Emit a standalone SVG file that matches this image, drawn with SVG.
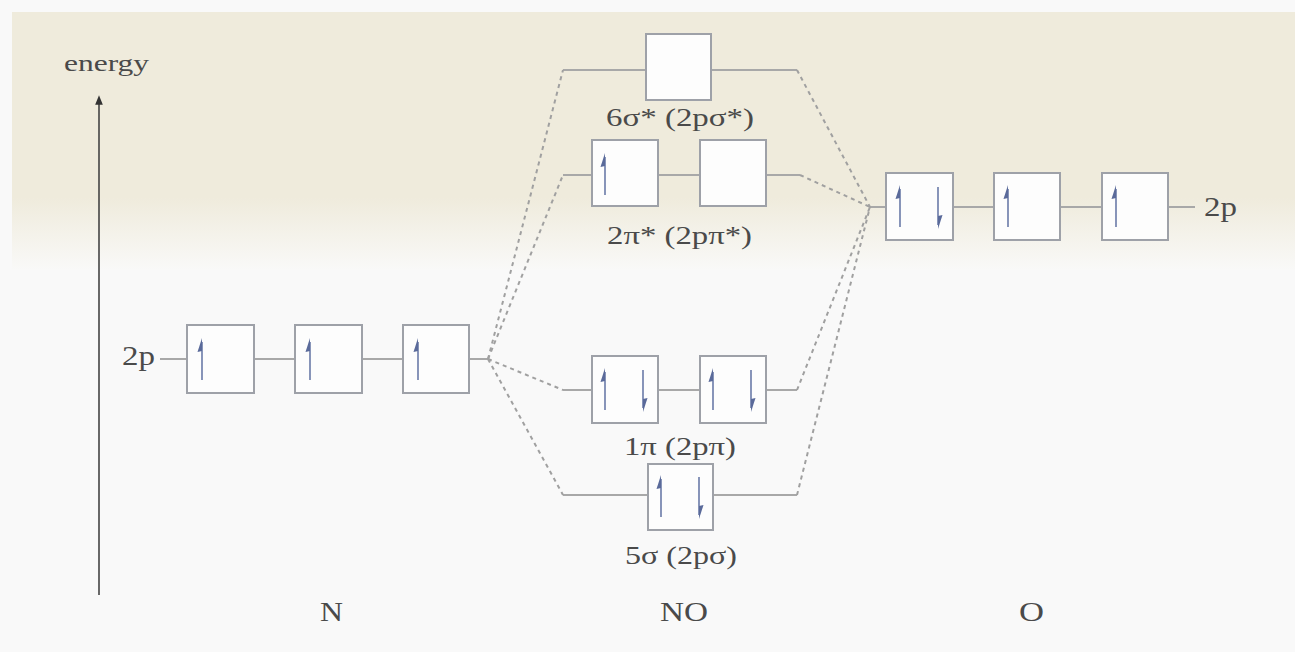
<svg xmlns="http://www.w3.org/2000/svg" xmlns:xlink="http://www.w3.org/1999/xlink" width="1295" height="652" viewBox="0 0 1295 652">
<style>
.box{fill:#fdfdfd;stroke:#9ea1a8;stroke-width:2}
.lvl{stroke:#a8a8a8;stroke-width:2;fill:none}
.dash{stroke:#a0a0a0;stroke-width:2;fill:none;stroke-dasharray:4 4}
.lbl{font-family:"Liberation Serif",serif;font-size:26px;fill:#4a4a4a}
.big{font-size:28px}
.el{stroke:#6a7aa8;stroke-width:1.6;fill:none}
.elh{fill:#5a6a9a}
</style>
<defs>
<linearGradient id="bg" x1="0" y1="0" x2="0" y2="1">
<stop offset="0" stop-color="#efebdc"/>
<stop offset="0.72" stop-color="#efebdc"/>
<stop offset="1" stop-color="#f9f9f8"/>
</linearGradient>
<g id="up"><path class="el" d="M0,20 V-18"/><path class="elh" d="M0,-22 L-4.5,-8 L0,-9 Z"/></g>
<g id="dn"><path class="el" d="M0,-20 V18"/><path class="elh" d="M0,22 L4.5,8 L0,9 Z"/></g>
<marker id="ah" viewBox="0 0 10 10" refX="5" refY="5" markerWidth="6" markerHeight="8" orient="auto"><path d="M0,1 L10,5 L0,9 Z" fill="#333"/></marker>
</defs>
<rect x="0" y="0" width="1295" height="652" fill="#f9f9f9"/>
<rect x="12" y="12" width="1283" height="258" fill="url(#bg)"/>

<g id="axis">
<line x1="99" y1="595" x2="99" y2="100" stroke="#444" stroke-width="1.6" marker-end="url(#ah)"/>
<text class="lbl" x="64" y="71" textLength="85" lengthAdjust="spacingAndGlyphs" style="font-size:24px">energy</text>
</g>

<g id="connectors">
<path class="lvl" d="M160,359 H488"/>
<path class="lvl" d="M870,207 H1195"/>
<path class="lvl" d="M563,70 H797"/>
<path class="lvl" d="M563,175 H800"/>
<path class="lvl" d="M563,390 H797"/>
<path class="lvl" d="M563,495 H797"/>
<path class="dash" d="M488,359 L563,70"/>
<path class="dash" d="M488,359 L563,175"/>
<path class="dash" d="M488,359 L563,390"/>
<path class="dash" d="M488,359 L563,495"/>
<path class="dash" d="M797,70 L870,207"/>
<path class="dash" d="M800,175 L870,207"/>
<path class="dash" d="M797,390 L870,207"/>
<path class="dash" d="M797,495 L870,207"/>
</g>

<g id="N2p">
<text class="lbl big" x="122" y="365" textLength="33" lengthAdjust="spacingAndGlyphs">2p</text>
<rect class="box" x="187" y="325" width="67" height="68"/>
<use xlink:href="#up" href="#up" transform="translate(202,360)"/>
<rect class="box" x="295" y="325" width="67" height="68"/>
<use xlink:href="#up" href="#up" transform="translate(310,360)"/>
<rect class="box" x="403" y="325" width="66" height="68"/>
<use xlink:href="#up" href="#up" transform="translate(418,360)"/>
<text class="lbl big" x="320" y="621" textLength="23" lengthAdjust="spacingAndGlyphs">N</text>
</g>

<g id="sigma6">
<rect class="box" x="646" y="34" width="65" height="66"/>
<text class="lbl" x="606" y="126" textLength="148" lengthAdjust="spacingAndGlyphs">6σ* (2pσ*)</text>
</g>

<g id="pi2">
<rect class="box" x="592" y="140" width="66" height="66"/>
<use xlink:href="#up" href="#up" transform="translate(605,175)"/>
<rect class="box" x="700" y="140" width="66" height="66"/>
<text class="lbl" x="607" y="244" textLength="145" lengthAdjust="spacingAndGlyphs">2π* (2pπ*)</text>
</g>

<g id="pi1">
<rect class="box" x="592" y="356" width="66" height="67"/>
<use xlink:href="#up" href="#up" transform="translate(605,390)"/>
<use xlink:href="#dn" href="#dn" transform="translate(643,390)"/>
<rect class="box" x="700" y="356" width="66" height="67"/>
<use xlink:href="#up" href="#up" transform="translate(713,390)"/>
<use xlink:href="#dn" href="#dn" transform="translate(751,390)"/>
<text class="lbl" x="624" y="455" textLength="112" lengthAdjust="spacingAndGlyphs">1π (2pπ)</text>
</g>

<g id="sigma5">
<rect class="box" x="648" y="464" width="65" height="66"/>
<use xlink:href="#up" href="#up" transform="translate(661,497)"/>
<use xlink:href="#dn" href="#dn" transform="translate(699,497)"/>
<text class="lbl" x="625" y="564" textLength="112" lengthAdjust="spacingAndGlyphs">5σ (2pσ)</text>
<text class="lbl big" x="660" y="621" textLength="48" lengthAdjust="spacingAndGlyphs">NO</text>
</g>

<g id="O2p">
<rect class="box" x="886" y="173" width="67" height="67"/>
<use xlink:href="#up" href="#up" transform="translate(900,207)"/>
<use xlink:href="#dn" href="#dn" transform="translate(938,207)"/>
<rect class="box" x="994" y="173" width="66" height="67"/>
<use xlink:href="#up" href="#up" transform="translate(1008,207)"/>
<rect class="box" x="1102" y="173" width="66" height="67"/>
<use xlink:href="#up" href="#up" transform="translate(1116,207)"/>
<text class="lbl big" x="1204" y="216" textLength="33" lengthAdjust="spacingAndGlyphs">2p</text>
<text class="lbl big" x="1019" y="621" textLength="25" lengthAdjust="spacingAndGlyphs">O</text>
</g>
</svg>
